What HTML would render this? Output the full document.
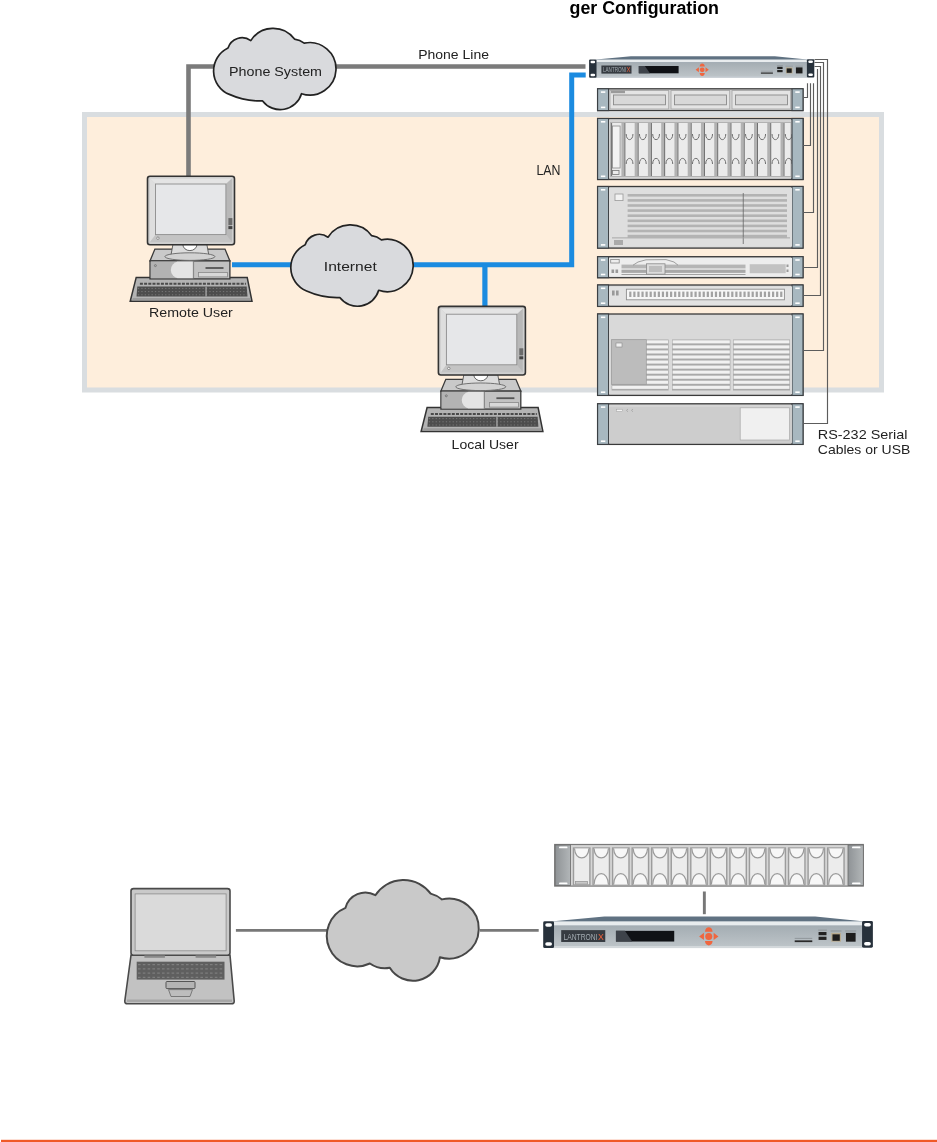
<!DOCTYPE html><html><head><meta charset="utf-8"><style>html,body{margin:0;padding:0;background:#fff;width:937px;height:1142px;overflow:hidden}svg{display:block;will-change:transform}</style></head><body>
<svg width="937" height="1142" viewBox="0 0 937 1142" font-family='"Liberation Sans", sans-serif'>
<defs><linearGradient id="face" x1="0" y1="0" x2="0" y2="1"><stop offset="0" stop-color="#a4adb3"/><stop offset="1" stop-color="#bcc3c7"/></linearGradient></defs>
<rect width="937" height="1142" fill="#fff"/>
<text x="569.5" y="14.3" font-size="17.5" font-weight="bold" fill="#000" textLength="149.5" lengthAdjust="spacingAndGlyphs">ger Configuration</text>
<rect x="84.5" y="114.5" width="797" height="275.5" fill="#feeedc" stroke="#d9dde0" stroke-width="5"/>
<path d="M188.5,176 L188.5,66.5 L585.5,66.5" fill="none" stroke="#7b7b7b" stroke-width="4.6"/>
<path d="M585.7,75 L571.7,75 L571.7,264.7 L232,264.7" fill="none" stroke="#1b8be0" stroke-width="5"/>
<path d="M484.9,264.7 L484.9,306" fill="none" stroke="#1b8be0" stroke-width="5.2"/>
<g transform="translate(212.8,27.9) scale(1.0)"><path d="M16.60,66.50 A25.31,25.31 0 0 1 15.20,20.20 A14.75,14.75 0 0 1 38.00,12.70 A26.48,26.48 0 0 1 81.70,11.20 A18.45,18.45 0 0 1 91.40,15.30 A26.22,26.22 0 1 1 88.70,65.80 A22.15,22.15 0 0 1 49.80,73.00 A74.24,74.24 0 0 1 16.60,66.50 Z" fill="#d9dadd" stroke="#222" stroke-width="1.700" stroke-linejoin="round"/></g>
<text x="229" y="76.3" font-size="13.2" font-weight="normal" fill="#222" textLength="93" lengthAdjust="spacingAndGlyphs">Phone System</text>
<g transform="translate(290,224.5) scale(1.0)"><path d="M16.60,66.50 A25.31,25.31 0 0 1 15.20,20.20 A14.75,14.75 0 0 1 38.00,12.70 A26.48,26.48 0 0 1 81.70,11.20 A18.45,18.45 0 0 1 91.40,15.30 A26.22,26.22 0 1 1 88.70,65.80 A22.15,22.15 0 0 1 49.80,73.00 A74.24,74.24 0 0 1 16.60,66.50 Z" fill="#d9dadd" stroke="#222" stroke-width="1.700" stroke-linejoin="round"/></g>
<text x="323.8" y="271" font-size="13.2" font-weight="normal" fill="#222" textLength="53" lengthAdjust="spacingAndGlyphs">Internet</text>
<text x="418.2" y="59.4" font-size="12.8" font-weight="normal" fill="#222" textLength="70.8" lengthAdjust="spacingAndGlyphs">Phone Line</text>
<text x="536.4" y="175" font-size="13.8" font-weight="normal" fill="#222" textLength="24" lengthAdjust="spacingAndGlyphs">LAN</text>
<g transform="translate(146.9,175.6)">
<path d="M-10.7,101.8 L100.3,101.8 L105.1,125.7 L-16.7,125.7 Z" fill="#b3b3b3" stroke="#333" stroke-width="1.5"/>
<line x1="-7" y1="108.2" x2="99" y2="108.2" stroke="#4a4a4a" stroke-width="2" stroke-dasharray="3 1.2"/>
<path d="M-9.6,111 L99.8,111 L100.6,121 L-10.4,121 Z" fill="#4d4d4d"/>
<line x1="-9" y1="112.8" x2="100" y2="112.8" stroke="#7c7c7c" stroke-width="0.9" stroke-dasharray="1.3 2.1"/>
<line x1="-9" y1="116.0" x2="100" y2="116.0" stroke="#7c7c7c" stroke-width="0.9" stroke-dasharray="1.3 2.1"/>
<line x1="-9" y1="119.2" x2="100" y2="119.2" stroke="#7c7c7c" stroke-width="0.9" stroke-dasharray="1.3 2.1"/>
<rect x="58.5" y="111" width="1.3" height="10" fill="#a8a8a8"/>
<path d="M-14,122.5 L103,122.5 L104,125 L-15,125 Z" fill="#9a9a9a"/>
<path d="M8,73.5 L78.1,73.5 L83,85.3 L3.1,85.3 Z" fill="#c9c9c9" stroke="#3a3a3a" stroke-width="1.3"/>
<rect x="3.1" y="85.3" width="79.9" height="18" fill="#c2c2c2" stroke="#3a3a3a" stroke-width="1.3"/>
<rect x="4" y="86" width="27" height="16.6" fill="#b3b3b3"/>
<path d="M31,86 A9,8.5 0 0 0 31,102.6 L46,102.6 L46,86 Z" fill="#e4e4e4"/>
<rect x="46" y="86" width="1.2" height="16.6" fill="#8a8a8a"/>
<rect x="58.6" y="91.5" width="18" height="1.8" fill="#555"/>
<rect x="51.7" y="96.8" width="29" height="4.5" fill="#d8d8d8" stroke="#888" stroke-width="0.8"/>
<circle cx="8.5" cy="90" r="1" fill="none" stroke="#666" stroke-width="0.7"/>
<path d="M26,69 L60,69 L62,80 L24,80 Z" fill="#dcdcdc" stroke="#555" stroke-width="0.9"/>
<path d="M36,69 A7,6 0 0 0 50,69 Z" fill="#fff" stroke="#555" stroke-width="0.9"/>
<ellipse cx="43" cy="81" rx="25" ry="3.8" fill="#d2d2d2" stroke="#666" stroke-width="0.9"/>
<rect x="0.6" y="0.6" width="87" height="68.6" rx="2.5" fill="#cfcfcf" stroke="#333" stroke-width="1.6"/>
<path d="M3,3 L85,3 L79,8.4 L8.6,8.4 Z" fill="#e4e4e4"/>
<path d="M3,66.5 L85,66.5 L79,59 L8.6,59 Z" fill="#c4c4c4"/>
<path d="M3,3 L8.6,8.4 L8.6,59 L3,66.5 Z" fill="#dedede"/>
<path d="M85,3 L79,8.4 L79,59 L85,66.5 Z" fill="#b8b8b8"/>
<rect x="8.6" y="8.4" width="70.4" height="50.6" fill="#e6e7e9" stroke="#8d8d8d" stroke-width="0.9"/>
<rect x="81.5" y="42.5" width="4" height="7" fill="#6a6a6a"/>
<rect x="81.5" y="50.5" width="4" height="3" fill="#444"/>
<circle cx="11" cy="62.6" r="1.2" fill="#fff" stroke="#555" stroke-width="0.6"/>
</g>
<text x="149" y="317.2" font-size="12.8" font-weight="normal" fill="#222" textLength="83.8" lengthAdjust="spacingAndGlyphs">Remote User</text>
<g transform="translate(437.8,305.8)">
<path d="M-10.7,101.8 L100.3,101.8 L105.1,125.7 L-16.7,125.7 Z" fill="#b3b3b3" stroke="#333" stroke-width="1.5"/>
<line x1="-7" y1="108.2" x2="99" y2="108.2" stroke="#4a4a4a" stroke-width="2" stroke-dasharray="3 1.2"/>
<path d="M-9.6,111 L99.8,111 L100.6,121 L-10.4,121 Z" fill="#4d4d4d"/>
<line x1="-9" y1="112.8" x2="100" y2="112.8" stroke="#7c7c7c" stroke-width="0.9" stroke-dasharray="1.3 2.1"/>
<line x1="-9" y1="116.0" x2="100" y2="116.0" stroke="#7c7c7c" stroke-width="0.9" stroke-dasharray="1.3 2.1"/>
<line x1="-9" y1="119.2" x2="100" y2="119.2" stroke="#7c7c7c" stroke-width="0.9" stroke-dasharray="1.3 2.1"/>
<rect x="58.5" y="111" width="1.3" height="10" fill="#a8a8a8"/>
<path d="M-14,122.5 L103,122.5 L104,125 L-15,125 Z" fill="#9a9a9a"/>
<path d="M8,73.5 L78.1,73.5 L83,85.3 L3.1,85.3 Z" fill="#c9c9c9" stroke="#3a3a3a" stroke-width="1.3"/>
<rect x="3.1" y="85.3" width="79.9" height="18" fill="#c2c2c2" stroke="#3a3a3a" stroke-width="1.3"/>
<rect x="4" y="86" width="27" height="16.6" fill="#b3b3b3"/>
<path d="M31,86 A9,8.5 0 0 0 31,102.6 L46,102.6 L46,86 Z" fill="#e4e4e4"/>
<rect x="46" y="86" width="1.2" height="16.6" fill="#8a8a8a"/>
<rect x="58.6" y="91.5" width="18" height="1.8" fill="#555"/>
<rect x="51.7" y="96.8" width="29" height="4.5" fill="#d8d8d8" stroke="#888" stroke-width="0.8"/>
<circle cx="8.5" cy="90" r="1" fill="none" stroke="#666" stroke-width="0.7"/>
<path d="M26,69 L60,69 L62,80 L24,80 Z" fill="#dcdcdc" stroke="#555" stroke-width="0.9"/>
<path d="M36,69 A7,6 0 0 0 50,69 Z" fill="#fff" stroke="#555" stroke-width="0.9"/>
<ellipse cx="43" cy="81" rx="25" ry="3.8" fill="#d2d2d2" stroke="#666" stroke-width="0.9"/>
<rect x="0.6" y="0.6" width="87" height="68.6" rx="2.5" fill="#cfcfcf" stroke="#333" stroke-width="1.6"/>
<path d="M3,3 L85,3 L79,8.4 L8.6,8.4 Z" fill="#e4e4e4"/>
<path d="M3,66.5 L85,66.5 L79,59 L8.6,59 Z" fill="#c4c4c4"/>
<path d="M3,3 L8.6,8.4 L8.6,59 L3,66.5 Z" fill="#dedede"/>
<path d="M85,3 L79,8.4 L79,59 L85,66.5 Z" fill="#b8b8b8"/>
<rect x="8.6" y="8.4" width="70.4" height="50.6" fill="#e6e7e9" stroke="#8d8d8d" stroke-width="0.9"/>
<rect x="81.5" y="42.5" width="4" height="7" fill="#6a6a6a"/>
<rect x="81.5" y="50.5" width="4" height="3" fill="#444"/>
<circle cx="11" cy="62.6" r="1.2" fill="#fff" stroke="#555" stroke-width="0.6"/>
</g>
<text x="451.6" y="448.9" font-size="12.8" font-weight="normal" fill="#222" textLength="67" lengthAdjust="spacingAndGlyphs">Local User</text>
<g transform="translate(588.9,56.2) scale(1.0)">
<path d="M7.2,3.3 L42,0 L186,0 L218.2,3.3 L218.2,21.4 L7.2,21.4 Z" fill="#607282"/>
<rect x="7.2" y="3.3" width="211" height="3" fill="#e8ecee"/>
<rect x="7.2" y="6.3" width="211" height="13.8" fill="url(#face)"/>
<rect x="7.2" y="20" width="211" height="1.6" fill="#d3d8db"/>
<rect x="0.2" y="3.2" width="7.4" height="18.4" rx="1" fill="#27313b"/>
<rect x="1.6" y="4.6" width="4.6" height="2.4" rx="1.2" fill="#fff"/>
<rect x="1.6" y="17.6" width="4.6" height="2.4" rx="1.2" fill="#fff"/>
<rect x="218" y="3" width="7.4" height="18.4" rx="1" fill="#27313b"/>
<rect x="219.4" y="4.4" width="4.6" height="2.4" rx="1.2" fill="#fff"/>
<rect x="219.4" y="17.4" width="4.6" height="2.4" rx="1.2" fill="#fff"/>
<rect x="12.5" y="9.3" width="30.1" height="8.1" fill="#363b41"/>
<text x="14.1" y="16" font-size="6.4" fill="#a3abb1" textLength="23.2" lengthAdjust="spacingAndGlyphs">LANTRONI</text>
<text x="37.6" y="16" font-size="6.4" fill="#f0603a" textLength="4" lengthAdjust="spacingAndGlyphs">X</text>
<rect x="49.9" y="9.8" width="39.8" height="7.3" fill="#101216"/>
<path d="M49.9,9.8 L56,9.8 L61,17.1 L49.9,17.1 Z" fill="#3e434a"/>
<g transform="translate(113.3,13.6)" fill="#f0663f">
<circle r="2.4"/><path d="M-2.6,-3.2 C-2.4,-7.2 2.4,-7.2 2.6,-3.2 Z"/><path d="M-2.6,3.2 C-2.4,7.2 2.4,7.2 2.6,3.2 Z"/>
<path d="M-3.3,-2.5 L-6.6,0 L-3.3,2.5 Z"/><path d="M3.3,-2.5 L6.6,0 L3.3,2.5 Z"/></g>
<rect x="172" y="16.3" width="12" height="1.2" fill="#2a2a2a"/>
<rect x="188.3" y="10.6" width="5.4" height="2.2" fill="#222"/>
<rect x="188.3" y="13.8" width="5.4" height="2.2" fill="#222"/>
<rect x="197" y="11.2" width="6.6" height="6" fill="#b9ab8e"/>
<rect x="197.8" y="12.2" width="5" height="4.4" fill="#1d1d1d"/>
<rect x="207" y="11.2" width="6.6" height="6" fill="#1d1d1d"/>
<rect x="196.5" y="9.6" width="7.5" height="0.6" fill="#8a9094"/><rect x="206.5" y="9.6" width="7.5" height="0.6" fill="#8a9094"/><rect x="188" y="9" width="6" height="0.6" fill="#8a9094"/>
<rect x="172" y="14.6" width="12" height="0.6" fill="#8a9094"/>
</g>
<rect x="597.6" y="88.8" width="205.39999999999998" height="21.799999999999997" fill="#d6d6d6" stroke="#3a3a3a" stroke-width="1.3"/>
<rect x="597.6" y="88.8" width="11" height="21.799999999999997" fill="#a8b8c0" stroke="#3a3e42" stroke-width="1.1"/>
<rect x="600.9" y="91.3" width="4.4" height="1.6" fill="#fff"/>
<rect x="600.9" y="106.6" width="4.4" height="1.6" fill="#fff"/>
<rect x="792" y="88.8" width="11" height="21.799999999999997" fill="#a8b8c0" stroke="#3a3e42" stroke-width="1.1"/>
<rect x="795.3" y="91.3" width="4.4" height="1.6" fill="#fff"/>
<rect x="795.3" y="106.6" width="4.4" height="1.6" fill="#fff"/>
<rect x="610" y="90.5" width="58.7" height="18.5" fill="#e4e4e4" stroke="#a8a8a8" stroke-width="0.9"/>
<rect x="613.5" y="95" width="52" height="9.8" fill="#d8d8d8" stroke="#8a8a8a" stroke-width="0.9"/>
<rect x="671" y="90.5" width="58.7" height="18.5" fill="#e4e4e4" stroke="#a8a8a8" stroke-width="0.9"/>
<rect x="674.5" y="95" width="52" height="9.8" fill="#d8d8d8" stroke="#8a8a8a" stroke-width="0.9"/>
<rect x="732" y="90.5" width="58.7" height="18.5" fill="#e4e4e4" stroke="#a8a8a8" stroke-width="0.9"/>
<rect x="735.5" y="95" width="52" height="9.8" fill="#d8d8d8" stroke="#8a8a8a" stroke-width="0.9"/>
<rect x="611" y="90.7" width="14" height="2.5" fill="#9a9a9a"/>
<rect x="597.6" y="118.5" width="205.39999999999998" height="61.0" fill="#d6d6d6" stroke="#3a3a3a" stroke-width="1.3"/>
<rect x="597.6" y="118.5" width="11" height="61.0" fill="#a8b8c0" stroke="#3a3e42" stroke-width="1.1"/>
<rect x="600.9" y="121.0" width="4.4" height="1.6" fill="#fff"/>
<rect x="600.9" y="175.5" width="4.4" height="1.6" fill="#fff"/>
<rect x="792" y="118.5" width="11" height="61.0" fill="#a8b8c0" stroke="#3a3e42" stroke-width="1.1"/>
<rect x="795.3" y="121.0" width="4.4" height="1.6" fill="#fff"/>
<rect x="795.3" y="175.5" width="4.4" height="1.6" fill="#fff"/>
<rect x="609" y="120" width="183" height="58" fill="#d2d2d2"/>
<rect x="610" y="122" width="181" height="55" fill="#b2b2b2"/>
<rect x="611.10" y="123" width="10.30" height="53" fill="#ebebeb"/>
<rect x="611.10" y="123" width="1" height="53" fill="#6a6a6a"/>
<rect x="612.60" y="126" width="7.5" height="42" fill="#f2f2f2" stroke="#8a8a8a" stroke-width="0.8"/>
<rect x="624.36" y="123" width="10.30" height="53" fill="#ebebeb"/>
<rect x="624.36" y="123" width="1" height="53" fill="#6a6a6a"/>
<path d="M626.16,134 C626.16,141.5 632.96,141.5 632.96,134" fill="none" stroke="#6f6f6f" stroke-width="1"/>
<path d="M626.16,164 C626.16,156.5 632.96,156.5 632.96,164" fill="none" stroke="#6f6f6f" stroke-width="1"/>
<rect x="637.62" y="123" width="10.30" height="53" fill="#ebebeb"/>
<rect x="637.62" y="123" width="1" height="53" fill="#6a6a6a"/>
<path d="M639.42,134 C639.42,141.5 646.22,141.5 646.22,134" fill="none" stroke="#6f6f6f" stroke-width="1"/>
<path d="M639.42,164 C639.42,156.5 646.22,156.5 646.22,164" fill="none" stroke="#6f6f6f" stroke-width="1"/>
<rect x="650.88" y="123" width="10.30" height="53" fill="#ebebeb"/>
<rect x="650.88" y="123" width="1" height="53" fill="#6a6a6a"/>
<path d="M652.68,134 C652.68,141.5 659.48,141.5 659.48,134" fill="none" stroke="#6f6f6f" stroke-width="1"/>
<path d="M652.68,164 C652.68,156.5 659.48,156.5 659.48,164" fill="none" stroke="#6f6f6f" stroke-width="1"/>
<rect x="664.14" y="123" width="10.30" height="53" fill="#ebebeb"/>
<rect x="664.14" y="123" width="1" height="53" fill="#6a6a6a"/>
<path d="M665.94,134 C665.94,141.5 672.74,141.5 672.74,134" fill="none" stroke="#6f6f6f" stroke-width="1"/>
<path d="M665.94,164 C665.94,156.5 672.74,156.5 672.74,164" fill="none" stroke="#6f6f6f" stroke-width="1"/>
<rect x="677.40" y="123" width="10.30" height="53" fill="#ebebeb"/>
<rect x="677.40" y="123" width="1" height="53" fill="#6a6a6a"/>
<path d="M679.20,134 C679.20,141.5 686.00,141.5 686.00,134" fill="none" stroke="#6f6f6f" stroke-width="1"/>
<path d="M679.20,164 C679.20,156.5 686.00,156.5 686.00,164" fill="none" stroke="#6f6f6f" stroke-width="1"/>
<rect x="690.66" y="123" width="10.30" height="53" fill="#ebebeb"/>
<rect x="690.66" y="123" width="1" height="53" fill="#6a6a6a"/>
<path d="M692.46,134 C692.46,141.5 699.26,141.5 699.26,134" fill="none" stroke="#6f6f6f" stroke-width="1"/>
<path d="M692.46,164 C692.46,156.5 699.26,156.5 699.26,164" fill="none" stroke="#6f6f6f" stroke-width="1"/>
<rect x="703.92" y="123" width="10.30" height="53" fill="#ebebeb"/>
<rect x="703.92" y="123" width="1" height="53" fill="#6a6a6a"/>
<path d="M705.72,134 C705.72,141.5 712.52,141.5 712.52,134" fill="none" stroke="#6f6f6f" stroke-width="1"/>
<path d="M705.72,164 C705.72,156.5 712.52,156.5 712.52,164" fill="none" stroke="#6f6f6f" stroke-width="1"/>
<rect x="717.18" y="123" width="10.30" height="53" fill="#ebebeb"/>
<rect x="717.18" y="123" width="1" height="53" fill="#6a6a6a"/>
<path d="M718.98,134 C718.98,141.5 725.78,141.5 725.78,134" fill="none" stroke="#6f6f6f" stroke-width="1"/>
<path d="M718.98,164 C718.98,156.5 725.78,156.5 725.78,164" fill="none" stroke="#6f6f6f" stroke-width="1"/>
<rect x="730.44" y="123" width="10.30" height="53" fill="#ebebeb"/>
<rect x="730.44" y="123" width="1" height="53" fill="#6a6a6a"/>
<path d="M732.24,134 C732.24,141.5 739.04,141.5 739.04,134" fill="none" stroke="#6f6f6f" stroke-width="1"/>
<path d="M732.24,164 C732.24,156.5 739.04,156.5 739.04,164" fill="none" stroke="#6f6f6f" stroke-width="1"/>
<rect x="743.70" y="123" width="10.30" height="53" fill="#ebebeb"/>
<rect x="743.70" y="123" width="1" height="53" fill="#6a6a6a"/>
<path d="M745.50,134 C745.50,141.5 752.30,141.5 752.30,134" fill="none" stroke="#6f6f6f" stroke-width="1"/>
<path d="M745.50,164 C745.50,156.5 752.30,156.5 752.30,164" fill="none" stroke="#6f6f6f" stroke-width="1"/>
<rect x="756.96" y="123" width="10.30" height="53" fill="#ebebeb"/>
<rect x="756.96" y="123" width="1" height="53" fill="#6a6a6a"/>
<path d="M758.76,134 C758.76,141.5 765.56,141.5 765.56,134" fill="none" stroke="#6f6f6f" stroke-width="1"/>
<path d="M758.76,164 C758.76,156.5 765.56,156.5 765.56,164" fill="none" stroke="#6f6f6f" stroke-width="1"/>
<rect x="770.22" y="123" width="10.30" height="53" fill="#ebebeb"/>
<rect x="770.22" y="123" width="1" height="53" fill="#6a6a6a"/>
<path d="M772.02,134 C772.02,141.5 778.82,141.5 778.82,134" fill="none" stroke="#6f6f6f" stroke-width="1"/>
<path d="M772.02,164 C772.02,156.5 778.82,156.5 778.82,164" fill="none" stroke="#6f6f6f" stroke-width="1"/>
<rect x="783.48" y="123" width="7.02" height="53" fill="#ebebeb"/>
<rect x="783.48" y="123" width="1" height="53" fill="#6a6a6a"/>
<path d="M785.28,134 C785.28,141.5 792.08,141.5 792.08,134" fill="none" stroke="#6f6f6f" stroke-width="1"/>
<path d="M785.28,164 C785.28,156.5 792.08,156.5 792.08,164" fill="none" stroke="#6f6f6f" stroke-width="1"/>
<rect x="612.5" y="170.5" width="6.5" height="4" fill="none" stroke="#777" stroke-width="0.8"/>
<rect x="792" y="118.5" width="11" height="61" fill="#a8b8c0" stroke="#3a3e42" stroke-width="1.1"/>
<rect x="795.3" y="121.0" width="4.4" height="1.6" fill="#fff"/>
<rect x="795.3" y="175.5" width="4.4" height="1.6" fill="#fff"/>
<rect x="597.6" y="186.5" width="205.39999999999998" height="61.599999999999994" fill="#d6d6d6" stroke="#3a3a3a" stroke-width="1.3"/>
<rect x="597.6" y="186.5" width="11" height="61.599999999999994" fill="#a8b8c0" stroke="#3a3e42" stroke-width="1.1"/>
<rect x="600.9" y="189.0" width="4.4" height="1.6" fill="#fff"/>
<rect x="600.9" y="244.1" width="4.4" height="1.6" fill="#fff"/>
<rect x="792" y="186.5" width="11" height="61.599999999999994" fill="#a8b8c0" stroke="#3a3e42" stroke-width="1.1"/>
<rect x="795.3" y="189.0" width="4.4" height="1.6" fill="#fff"/>
<rect x="795.3" y="244.1" width="4.4" height="1.6" fill="#fff"/>
<rect x="609" y="188" width="183" height="58.6" fill="#dedede"/>
<rect x="627.6" y="194.0" width="159.4" height="2.6" fill="#b3b3b3"/>
<rect x="627.6" y="199.1" width="159.4" height="2.6" fill="#b3b3b3"/>
<rect x="627.6" y="204.2" width="159.4" height="2.6" fill="#b3b3b3"/>
<rect x="627.6" y="209.3" width="159.4" height="2.6" fill="#b3b3b3"/>
<rect x="627.6" y="214.4" width="159.4" height="2.6" fill="#b3b3b3"/>
<rect x="627.6" y="219.5" width="159.4" height="2.6" fill="#b3b3b3"/>
<rect x="627.6" y="224.6" width="159.4" height="2.6" fill="#b3b3b3"/>
<rect x="627.6" y="229.7" width="159.4" height="2.6" fill="#b3b3b3"/>
<rect x="627.6" y="234.8" width="159.4" height="2.6" fill="#b3b3b3"/>
<rect x="615" y="194" width="8" height="6.6" fill="#f2f2f2" stroke="#9a9a9a" stroke-width="0.8"/>
<rect x="742.8" y="193" width="0.8" height="51" fill="#666"/>
<rect x="614" y="240" width="9" height="5" fill="#aaa"/>
<rect x="612" y="237.5" width="178" height="0.8" fill="#999"/>
<rect x="597.6" y="256.7" width="205.39999999999998" height="21.0" fill="#d6d6d6" stroke="#3a3a3a" stroke-width="1.3"/>
<rect x="597.6" y="256.7" width="11" height="21.0" fill="#a8b8c0" stroke="#3a3e42" stroke-width="1.1"/>
<rect x="600.9" y="259.2" width="4.4" height="1.6" fill="#fff"/>
<rect x="600.9" y="273.7" width="4.4" height="1.6" fill="#fff"/>
<rect x="792" y="256.7" width="11" height="21.0" fill="#a8b8c0" stroke="#3a3e42" stroke-width="1.1"/>
<rect x="795.3" y="259.2" width="4.4" height="1.6" fill="#fff"/>
<rect x="795.3" y="273.7" width="4.4" height="1.6" fill="#fff"/>
<rect x="609" y="258" width="183" height="18.5" fill="#ededed"/>
<rect x="621.5" y="264.6" width="124" height="3.8" fill="#b5b5b5"/>
<rect x="621.5" y="269.7" width="124" height="3.2" fill="#a8a8a8"/>
<rect x="621.5" y="274" width="124" height="0.9" fill="#999"/>
<rect x="749.7" y="264.2" width="36" height="9" fill="#c2c2c2"/>
<rect x="646.6" y="263.8" width="18.4" height="10.4" fill="#dcdcdc" stroke="#8a8a8a" stroke-width="0.8"/>
<rect x="649" y="266" width="13" height="6" fill="#bdbdbd"/>
<rect x="610.7" y="259.4" width="8.5" height="3.6" fill="none" stroke="#888" stroke-width="0.8"/>
<path d="M633,265.2 L638,262 L646,259.8 L666,259.6 L674,262 L678,265.2" fill="none" stroke="#8a8a8a" stroke-width="0.8"/>
<rect x="611.5" y="269.5" width="2.6" height="3.5" fill="#999"/><rect x="615.5" y="269.5" width="2.6" height="3.5" fill="#999"/>
<rect x="786.5" y="264.5" width="2" height="2.5" fill="#999"/><rect x="786.5" y="269.5" width="2" height="2.5" fill="#999"/>
<rect x="597.6" y="285" width="205.39999999999998" height="21.399999999999977" fill="#d6d6d6" stroke="#3a3a3a" stroke-width="1.3"/>
<rect x="597.6" y="285" width="11" height="21.399999999999977" fill="#a8b8c0" stroke="#3a3e42" stroke-width="1.1"/>
<rect x="600.9" y="287.5" width="4.4" height="1.6" fill="#fff"/>
<rect x="600.9" y="302.4" width="4.4" height="1.6" fill="#fff"/>
<rect x="792" y="285" width="11" height="21.399999999999977" fill="#a8b8c0" stroke="#3a3e42" stroke-width="1.1"/>
<rect x="795.3" y="287.5" width="4.4" height="1.6" fill="#fff"/>
<rect x="795.3" y="302.4" width="4.4" height="1.6" fill="#fff"/>
<rect x="609" y="286.5" width="183" height="18.5" fill="#e2e2e2"/>
<rect x="626.4" y="289.2" width="158" height="10.6" fill="#f6f6f6" stroke="#8e8e8e" stroke-width="0.9"/>
<rect x="629.20" y="291.6" width="2.2" height="5.4" fill="#a2a2a2"/>
<rect x="633.28" y="291.6" width="2.2" height="5.4" fill="#a2a2a2"/>
<rect x="637.36" y="291.6" width="2.2" height="5.4" fill="#a2a2a2"/>
<rect x="641.44" y="291.6" width="2.2" height="5.4" fill="#a2a2a2"/>
<rect x="645.52" y="291.6" width="2.2" height="5.4" fill="#a2a2a2"/>
<rect x="649.60" y="291.6" width="2.2" height="5.4" fill="#a2a2a2"/>
<rect x="653.68" y="291.6" width="2.2" height="5.4" fill="#a2a2a2"/>
<rect x="657.76" y="291.6" width="2.2" height="5.4" fill="#a2a2a2"/>
<rect x="661.84" y="291.6" width="2.2" height="5.4" fill="#a2a2a2"/>
<rect x="665.92" y="291.6" width="2.2" height="5.4" fill="#a2a2a2"/>
<rect x="670.00" y="291.6" width="2.2" height="5.4" fill="#a2a2a2"/>
<rect x="674.08" y="291.6" width="2.2" height="5.4" fill="#a2a2a2"/>
<rect x="678.16" y="291.6" width="2.2" height="5.4" fill="#a2a2a2"/>
<rect x="682.24" y="291.6" width="2.2" height="5.4" fill="#a2a2a2"/>
<rect x="686.32" y="291.6" width="2.2" height="5.4" fill="#a2a2a2"/>
<rect x="690.40" y="291.6" width="2.2" height="5.4" fill="#a2a2a2"/>
<rect x="694.48" y="291.6" width="2.2" height="5.4" fill="#a2a2a2"/>
<rect x="698.56" y="291.6" width="2.2" height="5.4" fill="#a2a2a2"/>
<rect x="702.64" y="291.6" width="2.2" height="5.4" fill="#a2a2a2"/>
<rect x="706.72" y="291.6" width="2.2" height="5.4" fill="#a2a2a2"/>
<rect x="710.80" y="291.6" width="2.2" height="5.4" fill="#a2a2a2"/>
<rect x="714.88" y="291.6" width="2.2" height="5.4" fill="#a2a2a2"/>
<rect x="718.96" y="291.6" width="2.2" height="5.4" fill="#a2a2a2"/>
<rect x="723.04" y="291.6" width="2.2" height="5.4" fill="#a2a2a2"/>
<rect x="727.12" y="291.6" width="2.2" height="5.4" fill="#a2a2a2"/>
<rect x="731.20" y="291.6" width="2.2" height="5.4" fill="#a2a2a2"/>
<rect x="735.28" y="291.6" width="2.2" height="5.4" fill="#a2a2a2"/>
<rect x="739.36" y="291.6" width="2.2" height="5.4" fill="#a2a2a2"/>
<rect x="743.44" y="291.6" width="2.2" height="5.4" fill="#a2a2a2"/>
<rect x="747.52" y="291.6" width="2.2" height="5.4" fill="#a2a2a2"/>
<rect x="751.60" y="291.6" width="2.2" height="5.4" fill="#a2a2a2"/>
<rect x="755.68" y="291.6" width="2.2" height="5.4" fill="#a2a2a2"/>
<rect x="759.76" y="291.6" width="2.2" height="5.4" fill="#a2a2a2"/>
<rect x="763.84" y="291.6" width="2.2" height="5.4" fill="#a2a2a2"/>
<rect x="767.92" y="291.6" width="2.2" height="5.4" fill="#a2a2a2"/>
<rect x="772.00" y="291.6" width="2.2" height="5.4" fill="#a2a2a2"/>
<rect x="776.08" y="291.6" width="2.2" height="5.4" fill="#a2a2a2"/>
<rect x="780.16" y="291.6" width="2.2" height="5.4" fill="#a2a2a2"/>
<rect x="612" y="290.5" width="2.6" height="5" fill="#999"/><rect x="616" y="290.5" width="2.6" height="5" fill="#999"/>
<rect x="597.6" y="314" width="205.39999999999998" height="81.39999999999998" fill="#d6d6d6" stroke="#3a3a3a" stroke-width="1.3"/>
<rect x="597.6" y="314" width="11" height="81.39999999999998" fill="#a8b8c0" stroke="#3a3e42" stroke-width="1.1"/>
<rect x="600.9" y="316.5" width="4.4" height="1.6" fill="#fff"/>
<rect x="600.9" y="391.4" width="4.4" height="1.6" fill="#fff"/>
<rect x="792" y="314" width="11" height="81.39999999999998" fill="#a8b8c0" stroke="#3a3e42" stroke-width="1.1"/>
<rect x="795.3" y="316.5" width="4.4" height="1.6" fill="#fff"/>
<rect x="795.3" y="391.4" width="4.4" height="1.6" fill="#fff"/>
<rect x="609" y="315.5" width="183" height="78.5" fill="#d9d9d9"/>
<rect x="611.6" y="339.5" width="57.0" height="51" fill="#a9a9a9"/>
<rect x="612.2" y="340.30" width="55.8" height="3.1" fill="#f1f1f1"/>
<rect x="612.2" y="345.35" width="55.8" height="3.1" fill="#f1f1f1"/>
<rect x="612.2" y="350.40" width="55.8" height="3.1" fill="#f1f1f1"/>
<rect x="612.2" y="355.45" width="55.8" height="3.1" fill="#f1f1f1"/>
<rect x="612.2" y="360.50" width="55.8" height="3.1" fill="#f1f1f1"/>
<rect x="612.2" y="365.55" width="55.8" height="3.1" fill="#f1f1f1"/>
<rect x="612.2" y="370.60" width="55.8" height="3.1" fill="#f1f1f1"/>
<rect x="612.2" y="375.65" width="55.8" height="3.1" fill="#f1f1f1"/>
<rect x="612.2" y="380.70" width="55.8" height="3.1" fill="#f1f1f1"/>
<rect x="612.2" y="385.75" width="55.8" height="3.1" fill="#f1f1f1"/>
<rect x="672" y="339.5" width="58.4" height="51" fill="#a9a9a9"/>
<rect x="672.6" y="340.30" width="57.2" height="3.1" fill="#f1f1f1"/>
<rect x="672.6" y="345.35" width="57.2" height="3.1" fill="#f1f1f1"/>
<rect x="672.6" y="350.40" width="57.2" height="3.1" fill="#f1f1f1"/>
<rect x="672.6" y="355.45" width="57.2" height="3.1" fill="#f1f1f1"/>
<rect x="672.6" y="360.50" width="57.2" height="3.1" fill="#f1f1f1"/>
<rect x="672.6" y="365.55" width="57.2" height="3.1" fill="#f1f1f1"/>
<rect x="672.6" y="370.60" width="57.2" height="3.1" fill="#f1f1f1"/>
<rect x="672.6" y="375.65" width="57.2" height="3.1" fill="#f1f1f1"/>
<rect x="672.6" y="380.70" width="57.2" height="3.1" fill="#f1f1f1"/>
<rect x="672.6" y="385.75" width="57.2" height="3.1" fill="#f1f1f1"/>
<rect x="733" y="339.5" width="57.0" height="51" fill="#a9a9a9"/>
<rect x="733.6" y="340.30" width="55.8" height="3.1" fill="#f1f1f1"/>
<rect x="733.6" y="345.35" width="55.8" height="3.1" fill="#f1f1f1"/>
<rect x="733.6" y="350.40" width="55.8" height="3.1" fill="#f1f1f1"/>
<rect x="733.6" y="355.45" width="55.8" height="3.1" fill="#f1f1f1"/>
<rect x="733.6" y="360.50" width="55.8" height="3.1" fill="#f1f1f1"/>
<rect x="733.6" y="365.55" width="55.8" height="3.1" fill="#f1f1f1"/>
<rect x="733.6" y="370.60" width="55.8" height="3.1" fill="#f1f1f1"/>
<rect x="733.6" y="375.65" width="55.8" height="3.1" fill="#f1f1f1"/>
<rect x="733.6" y="380.70" width="55.8" height="3.1" fill="#f1f1f1"/>
<rect x="733.6" y="385.75" width="55.8" height="3.1" fill="#f1f1f1"/>
<rect x="611.6" y="339.7" width="34.7" height="44.6" fill="#bcbcbc" stroke="#9a9a9a" stroke-width="0.7"/>
<rect x="616" y="343" width="6" height="4" fill="#f0f0f0" stroke="#888" stroke-width="0.6"/>
<rect x="597.6" y="403.8" width="205.39999999999998" height="40.599999999999966" fill="#d6d6d6" stroke="#3a3a3a" stroke-width="1.3"/>
<rect x="597.6" y="403.8" width="11" height="40.599999999999966" fill="#a8b8c0" stroke="#3a3e42" stroke-width="1.1"/>
<rect x="600.9" y="406.3" width="4.4" height="1.6" fill="#fff"/>
<rect x="600.9" y="440.4" width="4.4" height="1.6" fill="#fff"/>
<rect x="792" y="403.8" width="11" height="40.599999999999966" fill="#a8b8c0" stroke="#3a3e42" stroke-width="1.1"/>
<rect x="795.3" y="406.3" width="4.4" height="1.6" fill="#fff"/>
<rect x="795.3" y="440.4" width="4.4" height="1.6" fill="#fff"/>
<rect x="609" y="405.3" width="183" height="37.6" fill="#cdcdcd"/>
<rect x="740.2" y="407.8" width="49.3" height="32.2" fill="#f0f0f0" stroke="#aaa" stroke-width="0.7"/>
<rect x="616.3" y="409.2" width="6.2" height="2.4" fill="#f4f4f4" stroke="#999" stroke-width="0.5"/><path d="M628,409 Q625,410.3 628,411.8 M633,409 Q630,410.3 633,411.8" fill="none" stroke="#999" stroke-width="0.7"/><rect x="609" y="405.5" width="183" height="1" fill="#dcdcdc"/>
<path d="M814.5,59.5 L827.5,59.5 L827.5,423.5 L803,423.5" fill="none" stroke="#5c5c5c" stroke-width="1.15"/>
<path d="M814.5,62.5 L823.5,62.5 L823.5,350.5 L803,350.5" fill="none" stroke="#5c5c5c" stroke-width="1.15"/>
<path d="M814.5,66.5 L820.5,66.5 L820.5,295.5 L803,295.5" fill="none" stroke="#5c5c5c" stroke-width="1.15"/>
<path d="M817.5,69 L817.5,267.5 L803,267.5" fill="none" stroke="#5c5c5c" stroke-width="1.15"/>
<path d="M807.5,83.3 L807.5,97.5 L803,97.5" fill="none" stroke="#5c5c5c" stroke-width="1.15"/>
<path d="M810.5,83.3 L810.5,145.5 L803,145.5" fill="none" stroke="#5c5c5c" stroke-width="1.15"/>
<path d="M813.5,83.3 L813.5,212.5 L803,212.5" fill="none" stroke="#5c5c5c" stroke-width="1.15"/>
<text x="817.8" y="438.7" font-size="12.8" font-weight="normal" fill="#222" textLength="89.7" lengthAdjust="spacingAndGlyphs">RS-232 Serial</text>
<text x="817.8" y="454.4" font-size="12.8" font-weight="normal" fill="#222" textLength="92.5" lengthAdjust="spacingAndGlyphs">Cables or USB</text>
<path d="M235.9,930.3 L328,930.3 M480,930.3 L538.7,930.3" stroke="#787878" stroke-width="2.8" fill="none"/>
<rect x="702.9" y="891.5" width="2.9" height="22.7" fill="#777"/>
<g>
<path d="M131,955.2 L230,955.2 L234.2,1001 Q234.4,1003.8 231.5,1003.8 L127.5,1003.8 Q124.6,1003.8 124.8,1001 Z" fill="#c2c2c2" stroke="#4a4a4a" stroke-width="1.6"/>
<rect x="131" y="888.6" width="99" height="66.6" rx="2.5" fill="#c9c9c9" stroke="#4a4a4a" stroke-width="1.6"/>
<rect x="135.1" y="893.9" width="91" height="56.9" fill="#dadada" stroke="#8a8a8a" stroke-width="0.8"/>
<rect x="144.4" y="955.4" width="20.5" height="2.4" fill="#8a8a8a"/><rect x="195.6" y="955.4" width="20.5" height="2.4" fill="#8a8a8a"/>
<rect x="136.7" y="961.7" width="87.8" height="17.9" fill="#5f5f5f"/>
<line x1="138" y1="964.7" x2="223" y2="964.7" stroke="#7e7e7e" stroke-width="1.2" stroke-dasharray="2.6 2.2"/>
<line x1="138" y1="968.9000000000001" x2="223" y2="968.9000000000001" stroke="#7e7e7e" stroke-width="1.2" stroke-dasharray="2.6 2.2"/>
<line x1="138" y1="973.1" x2="223" y2="973.1" stroke="#7e7e7e" stroke-width="1.2" stroke-dasharray="2.6 2.2"/>
<line x1="138" y1="977.3000000000001" x2="223" y2="977.3000000000001" stroke="#7e7e7e" stroke-width="1.2" stroke-dasharray="2.6 2.2"/>
<rect x="166" y="981.5" width="29" height="7.1" rx="1" fill="#b4b4b4" stroke="#555" stroke-width="1"/>
<path d="M168.5,989.6 L192.5,989.6 L190,996.5 L171,996.5 Z" fill="#bdbdbd" stroke="#666" stroke-width="0.8"/>
<rect x="127" y="999.5" width="105" height="2.4" fill="#a6a6a6"/>
</g>
<path d="M369.90,963.50 A30.41,30.41 0 1 1 345.50,907.80 A20.42,20.42 0 0 1 375.40,895.20 A33.72,33.72 0 0 1 430.70,893.60 A29.49,29.49 0 0 1 442.00,899.40 A29.97,29.97 0 1 1 439.90,957.20 A27.19,27.19 0 0 1 389.80,967.80 A26.42,26.42 0 0 1 369.90,963.50 Z" fill="#c9c9c9" stroke="#474747" stroke-width="2.0" stroke-linejoin="round"/>
<rect x="554.7" y="844.5" width="308.6" height="41.6" fill="#d6d6d6" stroke="#7a7a7a" stroke-width="1.2"/>
<defs><linearGradient id="earg" x1="0" y1="0" x2="1" y2="0"><stop offset="0" stop-color="#8f9396"/><stop offset="1" stop-color="#b2b6b8"/></linearGradient></defs>
<rect x="555.2" y="845" width="15.3" height="40.6" fill="url(#earg)" stroke="#6a6a6a" stroke-width="0.8"/>
<rect x="848" y="845" width="15.3" height="40.6" fill="url(#earg)" stroke="#6a6a6a" stroke-width="0.8"/>
<rect x="559" y="846.5" width="8.5" height="1.8" rx="0.9" fill="#fff"/><rect x="559" y="882.5" width="8.5" height="1.8" rx="0.9" fill="#fff"/>
<rect x="852" y="846.5" width="8.5" height="1.8" rx="0.9" fill="#fff"/><rect x="852" y="882.5" width="8.5" height="1.8" rx="0.9" fill="#fff"/>
<rect x="573.50" y="848" width="16.4" height="37" fill="#ececec" stroke="#9c9c9c" stroke-width="1.4"/>
<path d="M574.50,848.5 C575.00,861 588.40,861 588.90,848.5" fill="#f7f7f7" stroke="#9a9a9a" stroke-width="1.2"/>
<rect x="575.50" y="881.5" width="12" height="2.6" fill="#c8c8c8" stroke="#999" stroke-width="0.8"/>
<rect x="593.05" y="848" width="16.4" height="37" fill="#ececec" stroke="#9c9c9c" stroke-width="1.4"/>
<path d="M594.05,848.5 C594.55,861 607.95,861 608.45,848.5" fill="#f7f7f7" stroke="#9a9a9a" stroke-width="1.2"/>
<path d="M594.05,884.5 C594.55,870 607.95,870 608.45,884.5" fill="#f7f7f7" stroke="#9a9a9a" stroke-width="1.2"/>
<rect x="612.60" y="848" width="16.4" height="37" fill="#ececec" stroke="#9c9c9c" stroke-width="1.4"/>
<path d="M613.60,848.5 C614.10,861 627.50,861 628.00,848.5" fill="#f7f7f7" stroke="#9a9a9a" stroke-width="1.2"/>
<path d="M613.60,884.5 C614.10,870 627.50,870 628.00,884.5" fill="#f7f7f7" stroke="#9a9a9a" stroke-width="1.2"/>
<rect x="632.15" y="848" width="16.4" height="37" fill="#ececec" stroke="#9c9c9c" stroke-width="1.4"/>
<path d="M633.15,848.5 C633.65,861 647.05,861 647.55,848.5" fill="#f7f7f7" stroke="#9a9a9a" stroke-width="1.2"/>
<path d="M633.15,884.5 C633.65,870 647.05,870 647.55,884.5" fill="#f7f7f7" stroke="#9a9a9a" stroke-width="1.2"/>
<rect x="651.70" y="848" width="16.4" height="37" fill="#ececec" stroke="#9c9c9c" stroke-width="1.4"/>
<path d="M652.70,848.5 C653.20,861 666.60,861 667.10,848.5" fill="#f7f7f7" stroke="#9a9a9a" stroke-width="1.2"/>
<path d="M652.70,884.5 C653.20,870 666.60,870 667.10,884.5" fill="#f7f7f7" stroke="#9a9a9a" stroke-width="1.2"/>
<rect x="671.25" y="848" width="16.4" height="37" fill="#ececec" stroke="#9c9c9c" stroke-width="1.4"/>
<path d="M672.25,848.5 C672.75,861 686.15,861 686.65,848.5" fill="#f7f7f7" stroke="#9a9a9a" stroke-width="1.2"/>
<path d="M672.25,884.5 C672.75,870 686.15,870 686.65,884.5" fill="#f7f7f7" stroke="#9a9a9a" stroke-width="1.2"/>
<rect x="690.80" y="848" width="16.4" height="37" fill="#ececec" stroke="#9c9c9c" stroke-width="1.4"/>
<path d="M691.80,848.5 C692.30,861 705.70,861 706.20,848.5" fill="#f7f7f7" stroke="#9a9a9a" stroke-width="1.2"/>
<path d="M691.80,884.5 C692.30,870 705.70,870 706.20,884.5" fill="#f7f7f7" stroke="#9a9a9a" stroke-width="1.2"/>
<rect x="710.35" y="848" width="16.4" height="37" fill="#ececec" stroke="#9c9c9c" stroke-width="1.4"/>
<path d="M711.35,848.5 C711.85,861 725.25,861 725.75,848.5" fill="#f7f7f7" stroke="#9a9a9a" stroke-width="1.2"/>
<path d="M711.35,884.5 C711.85,870 725.25,870 725.75,884.5" fill="#f7f7f7" stroke="#9a9a9a" stroke-width="1.2"/>
<rect x="729.90" y="848" width="16.4" height="37" fill="#ececec" stroke="#9c9c9c" stroke-width="1.4"/>
<path d="M730.90,848.5 C731.40,861 744.80,861 745.30,848.5" fill="#f7f7f7" stroke="#9a9a9a" stroke-width="1.2"/>
<path d="M730.90,884.5 C731.40,870 744.80,870 745.30,884.5" fill="#f7f7f7" stroke="#9a9a9a" stroke-width="1.2"/>
<rect x="749.45" y="848" width="16.4" height="37" fill="#ececec" stroke="#9c9c9c" stroke-width="1.4"/>
<path d="M750.45,848.5 C750.95,861 764.35,861 764.85,848.5" fill="#f7f7f7" stroke="#9a9a9a" stroke-width="1.2"/>
<path d="M750.45,884.5 C750.95,870 764.35,870 764.85,884.5" fill="#f7f7f7" stroke="#9a9a9a" stroke-width="1.2"/>
<rect x="769.00" y="848" width="16.4" height="37" fill="#ececec" stroke="#9c9c9c" stroke-width="1.4"/>
<path d="M770.00,848.5 C770.50,861 783.90,861 784.40,848.5" fill="#f7f7f7" stroke="#9a9a9a" stroke-width="1.2"/>
<path d="M770.00,884.5 C770.50,870 783.90,870 784.40,884.5" fill="#f7f7f7" stroke="#9a9a9a" stroke-width="1.2"/>
<rect x="788.55" y="848" width="16.4" height="37" fill="#ececec" stroke="#9c9c9c" stroke-width="1.4"/>
<path d="M789.55,848.5 C790.05,861 803.45,861 803.95,848.5" fill="#f7f7f7" stroke="#9a9a9a" stroke-width="1.2"/>
<path d="M789.55,884.5 C790.05,870 803.45,870 803.95,884.5" fill="#f7f7f7" stroke="#9a9a9a" stroke-width="1.2"/>
<rect x="808.10" y="848" width="16.4" height="37" fill="#ececec" stroke="#9c9c9c" stroke-width="1.4"/>
<path d="M809.10,848.5 C809.60,861 823.00,861 823.50,848.5" fill="#f7f7f7" stroke="#9a9a9a" stroke-width="1.2"/>
<path d="M809.10,884.5 C809.60,870 823.00,870 823.50,884.5" fill="#f7f7f7" stroke="#9a9a9a" stroke-width="1.2"/>
<rect x="827.65" y="848" width="16.4" height="37" fill="#ececec" stroke="#9c9c9c" stroke-width="1.4"/>
<path d="M828.65,848.5 C829.15,861 842.55,861 843.05,848.5" fill="#f7f7f7" stroke="#9a9a9a" stroke-width="1.2"/>
<path d="M828.65,884.5 C829.15,870 842.55,870 843.05,884.5" fill="#f7f7f7" stroke="#9a9a9a" stroke-width="1.2"/>
<g transform="translate(542.9,916.5) scale(1.464)">
<path d="M7.2,3.3 L42,0 L186,0 L218.2,3.3 L218.2,21.4 L7.2,21.4 Z" fill="#607282"/>
<rect x="7.2" y="3.3" width="211" height="3" fill="#e8ecee"/>
<rect x="7.2" y="6.3" width="211" height="13.8" fill="url(#face)"/>
<rect x="7.2" y="20" width="211" height="1.6" fill="#d3d8db"/>
<rect x="0.2" y="3.2" width="7.4" height="18.4" rx="1" fill="#27313b"/>
<rect x="1.6" y="4.6" width="4.6" height="2.4" rx="1.2" fill="#fff"/>
<rect x="1.6" y="17.6" width="4.6" height="2.4" rx="1.2" fill="#fff"/>
<rect x="218" y="3" width="7.4" height="18.4" rx="1" fill="#27313b"/>
<rect x="219.4" y="4.4" width="4.6" height="2.4" rx="1.2" fill="#fff"/>
<rect x="219.4" y="17.4" width="4.6" height="2.4" rx="1.2" fill="#fff"/>
<rect x="12.5" y="9.3" width="30.1" height="8.1" fill="#363b41"/>
<text x="14.1" y="16" font-size="6.4" fill="#a3abb1" textLength="23.2" lengthAdjust="spacingAndGlyphs">LANTRONI</text>
<text x="37.6" y="16" font-size="6.4" fill="#f0603a" textLength="4" lengthAdjust="spacingAndGlyphs">X</text>
<rect x="49.9" y="9.8" width="39.8" height="7.3" fill="#101216"/>
<path d="M49.9,9.8 L56,9.8 L61,17.1 L49.9,17.1 Z" fill="#3e434a"/>
<g transform="translate(113.3,13.6)" fill="#f0663f">
<circle r="2.4"/><path d="M-2.6,-3.2 C-2.4,-7.2 2.4,-7.2 2.6,-3.2 Z"/><path d="M-2.6,3.2 C-2.4,7.2 2.4,7.2 2.6,3.2 Z"/>
<path d="M-3.3,-2.5 L-6.6,0 L-3.3,2.5 Z"/><path d="M3.3,-2.5 L6.6,0 L3.3,2.5 Z"/></g>
<rect x="172" y="16.3" width="12" height="1.2" fill="#2a2a2a"/>
<rect x="188.3" y="10.6" width="5.4" height="2.2" fill="#222"/>
<rect x="188.3" y="13.8" width="5.4" height="2.2" fill="#222"/>
<rect x="197" y="11.2" width="6.6" height="6" fill="#b9ab8e"/>
<rect x="197.8" y="12.2" width="5" height="4.4" fill="#1d1d1d"/>
<rect x="207" y="11.2" width="6.6" height="6" fill="#1d1d1d"/>
<rect x="196.5" y="9.6" width="7.5" height="0.6" fill="#8a9094"/><rect x="206.5" y="9.6" width="7.5" height="0.6" fill="#8a9094"/><rect x="188" y="9" width="6" height="0.6" fill="#8a9094"/>
<rect x="172" y="14.6" width="12" height="0.6" fill="#8a9094"/>
</g>
<rect x="1" y="1139.8" width="936" height="2.2" fill="#f05a28"/>
</svg></body></html>
